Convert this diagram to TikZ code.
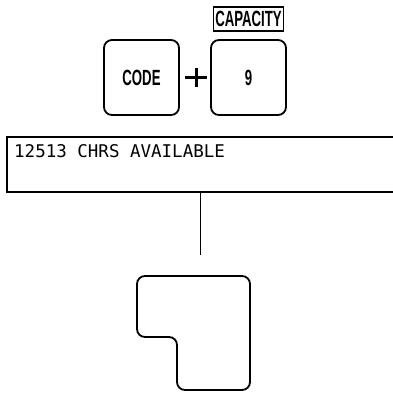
\documentclass[tikz,border=0pt]{standalone}
\usepackage{fontspec}
\setmainfont{Liberation Sans}
\newfontfamily\keyfont[FakeStretch=0.6]{Liberation Sans Bold}
\newfontfamily\lcdfont{DejaVu Sans Mono}
\usetikzlibrary{positioning,calc}
\tikzset{
  keybox/.style={draw, line width=1.8pt, rounded corners=8pt,
                 minimum width=75pt, minimum height=75pt, inner sep=0pt,
                 font=\keyfont\fontsize{22}{24}\selectfont},
  labelbox/.style={draw, line width=1.6pt, minimum width=70pt,
                   minimum height=24pt, inner sep=0pt,
                   font=\keyfont\fontsize{22}{24}\selectfont},
  lcdtext/.style={font=\lcdfont\fontsize{17.5}{18}\selectfont,
                  anchor=base west, inner sep=0pt},
  lcdframe/.style={line width=1.2pt},
  keyline/.style={line width=1.8pt, rounded corners=8pt},
  plusbar/.style={line width=3pt}
}
\begin{document}
\begin{tikzpicture}[x=1pt,y=-1pt]
    \useasboundingbox (0,0) rectangle (393,393);

    % key sequence
    \node[keybox] (code) at (141.5,77.5) {CODE};
    \node[keybox] (nine) at (248.5,77.5) {9};
    \node[labelbox, above=7pt of nine] (cap) {CAPACITY};
    \coordinate (plus) at (196,77.5);
    \draw[plusbar] ($(plus)+(-11,0)$) -- ($(plus)+(11,0)$);
    \draw[plusbar] ($(plus)+(0,-9.5)$) -- ($(plus)+(0,9.5)$);

    % display
    \node[lcdtext] (msg) at (14,157) {12513 CHRS AVAILABLE};
    \draw[lcdframe] (393,137) -- (7,137) -- (7,192) -- (393,192);
    \coordinate (tap) at (200,192);
    \coordinate (tapend) at (200,255);
    \draw[line width=0.9pt] (tap) -- (tapend);

    % enter key
    \draw[keyline] (137,276) -- (250,276) -- (250,390) -- (177,390)
      -- (177,337) -- (137,337) -- cycle;
\end{tikzpicture}
\end{document}
